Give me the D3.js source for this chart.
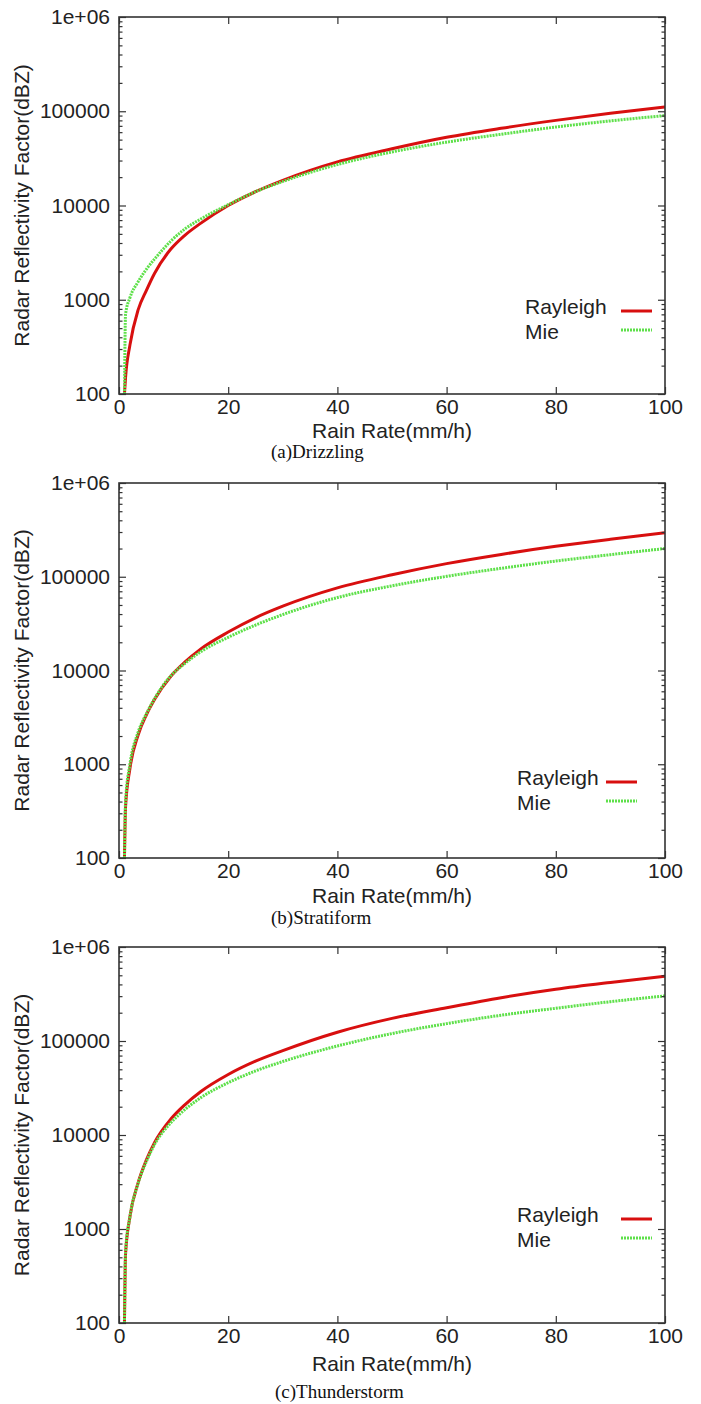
<!DOCTYPE html>
<html>
<head>
<meta charset="utf-8">
<script src="https://cdn.jsdelivr.net/npm/d3@7"></script>
<style>
  body { margin: 0; background: #fff; }
  svg { display: block; }
  .tick text, .lbl { font-family: "Liberation Sans", Arial, sans-serif; fill: #222; }
  .caption { font-family: "Liberation Serif", "Times New Roman", serif; fill: #111; }
</style>
</head>
<body>
<div id="chart"></div>
<script>

// rain rate samples (mm/h)
var rainRate = [ 1, 1.2, 2, 3.5, 5, 6.5, 9.5, 12, 15, 20, 25, 30, 40, 50, 60, 70, 80, 90, 100 ];

var drizzlingRayleigh  = [ 100, 150, 330, 780, 1250, 1900, 3450, 4800, 6500, 10000, 14000, 18500, 29000, 40000, 53000, 66000, 80000, 95000, 111000 ];
var drizzlingMie       = [ 100, 700, 1050, 1550, 2100, 2700, 4200, 5600, 7200, 10200, 14000, 18000, 27200, 37000, 47000, 57000, 68000, 79000, 90000 ];
var stratiformRayleigh = [ 100, 350, 900, 2050, 3350, 4900, 8700, 12200, 17000, 25700, 36500, 48500, 76000, 105000, 138000, 173000, 211000, 251000, 295000 ];
var stratiformMie      = [ 100, 400, 1000, 2200, 3450, 5000, 8800, 11800, 15900, 22600, 30500, 39500, 60000, 80000, 101000, 123000, 147000, 172000, 200000 ];
var thunderRayleigh    = [ 100, 540, 1350, 3100, 5400, 8300, 14800, 20800, 29000, 44000, 61000, 79000, 124000, 174000, 226000, 289000, 355000, 420000, 490000 ];
var thunderMie         = [ 100, 570, 1350, 3050, 5200, 7900, 13500, 18500, 25000, 36000, 48000, 60500, 88500, 120000, 153000, 188000, 223000, 262000, 302000 ];

var seriesNames = [ 'Rayleigh', 'Mie' ];
var captions = [ '(a)Drizzling', '(b)Stratiform', '(c)Thunderstorm' ];

var yTicks = [ 100, 1000, 10000, 100000, 1000000 ];
var yTickLabels = [ '100', '1000', '10000', '100000', '1e+06' ];
var xTicks = [ 0, 20, 40, 60, 80, 100 ];

var xLabel = 'Rain Rate(mm/h)';
var yLabel = 'Radar Reflectivity Factor(dBZ)';

var panelData = [
    [ drizzlingRayleigh, drizzlingMie ],
    [ stratiformRayleigh, stratiformMie ],
    [ thunderRayleigh, thunderMie ]
];

// layout of each panel
var panels = [
    { top: 17,  bottom: 394,  xLab: 431,  cap: 451,  capX: 271, legX: 525, legLine: 621, legY: 311 },
    { top: 483, bottom: 858,  xLab: 896,  cap: 917,  capX: 271, legX: 517, legLine: 606, legY: 782 },
    { top: 947, bottom: 1323, xLab: 1364, cap: 1391, capX: 275, legX: 517, legLine: 621, legY: 1219 }
];

var left = 119, right = 665;
var colors = [ '#d80f0f', '#5ee04a' ];

var svg = d3.select('#chart').append('svg')
    .attr('width', 701)
    .attr('height', 1404);

var minorTicks = [];
[ 100, 1000, 10000, 100000 ].forEach( function ( d ) {
    for ( var k = 2; k < 10; k++ ) minorTicks.push( d * k );
});

panels.forEach( function ( p, i ) {

    var x = d3.scaleLinear().domain([ 0, 100 ]).range([ left, right ]);
    var y = d3.scaleLog().domain([ 100, 1000000 ]).range([ p.bottom, p.top ]);

    var g = svg.append('g');

    g.append('clipPath')
        .attr('id', 'clip' + i)
        .append('rect')
        .attr('x', left).attr('y', p.top)
        .attr('width', right - left).attr('height', p.bottom - p.top);

    // curves
    panelData[ i ].forEach( function ( vals, s ) {

        var pts = rainRate.map( function ( r, j ) { return [ r, vals[ j ] ]; });

        var line = d3.line()
            .x( function ( d ) { return x( d[0] ); })
            .y( function ( d ) { return y( d[1] ); })
            .curve( d3.curveMonotoneX );

        g.append('path')
            .datum( pts )
            .attr('clip-path', 'url(#clip' + i + ')')
            .attr('fill', 'none')
            .attr('stroke', colors[ s ])
            .attr('stroke-width', 3)
            .attr('stroke-dasharray', s === 1 ? '2,1' : null)
            .attr('d', line);
    });

    // axes, ticks point inward
    var fmt = function ( d ) { return yTickLabels[ yTicks.indexOf( d ) ]; };

    var axes = [
        g.append('g').attr('transform', 'translate(' + left + ',0)')
            .call( d3.axisLeft( y ).tickValues( yTicks ).tickFormat( fmt ).tickSize( -7 ).tickPadding( 9 ) ),
        g.append('g').attr('transform', 'translate(' + left + ',0)')
            .call( d3.axisLeft( y ).tickValues( minorTicks ).tickFormat('').tickSize( -3.5 ) ),
        g.append('g').attr('transform', 'translate(' + right + ',0)')
            .call( d3.axisRight( y ).tickValues( yTicks ).tickFormat('').tickSize( -7 ) ),
        g.append('g').attr('transform', 'translate(' + right + ',0)')
            .call( d3.axisRight( y ).tickValues( minorTicks ).tickFormat('').tickSize( -3.5 ) ),
        g.append('g').attr('transform', 'translate(0,' + p.bottom + ')')
            .call( d3.axisBottom( x ).tickValues( xTicks ).tickFormat( d3.format('d') ).tickSize( -7 ).tickPadding( 5 ) ),
        g.append('g').attr('transform', 'translate(0,' + p.top + ')')
            .call( d3.axisTop( x ).tickValues( xTicks ).tickFormat('').tickSize( -7 ) )
    ];

    axes.forEach( function ( a ) {
        a.select('.domain').remove();
        a.selectAll('.tick line').attr('stroke', '#333').attr('stroke-width', 1.2);
        a.selectAll('.tick text').style('font-size', '21px');
    });

    g.append('rect')
        .attr('x', left).attr('y', p.top)
        .attr('width', right - left).attr('height', p.bottom - p.top)
        .attr('fill', 'none')
        .attr('stroke', '#333')
        .attr('stroke-width', 1.6);

    // labels
    g.append('text')
        .attr('class', 'lbl')
        .attr('x', ( left + right ) / 2)
        .attr('y', p.xLab)
        .attr('dy', '0.35em')
        .attr('text-anchor', 'middle')
        .style('font-size', '21px')
        .text( xLabel );

    g.append('text')
        .attr('class', 'lbl')
        .attr('transform', 'translate(22,' + ( p.top + p.bottom ) / 2 + ') rotate(-90)')
        .attr('dy', '0.35em')
        .attr('text-anchor', 'middle')
        .style('font-size', '21px')
        .text( yLabel );

    g.append('text')
        .attr('class', 'caption')
        .attr('x', p.capX)
        .attr('y', p.cap)
        .attr('dy', '0.35em')
        .style('font-size', '19px')
        .text( captions[ i ] );

    // legend: text rows 25px apart, sample lines 19px apart
    seriesNames.forEach( function ( name, s ) {

        var lineY = p.legY + s * 19;
        var textY = s === 0 ? p.legY - 4 : p.legY + 21;

        g.append('text')
            .attr('class', 'lbl')
            .attr('x', p.legX)
            .attr('y', textY)
            .attr('dy', '0.35em')
            .style('font-size', '21px')
            .text( name );

        g.append('line')
            .attr('x1', p.legLine).attr('x2', p.legLine + 31)
            .attr('y1', lineY).attr('y2', lineY)
            .attr('stroke', colors[ s ])
            .attr('stroke-width', 3)
            .attr('stroke-dasharray', s === 1 ? '2,1' : null);
    });

});

</script>
</body>
</html>
